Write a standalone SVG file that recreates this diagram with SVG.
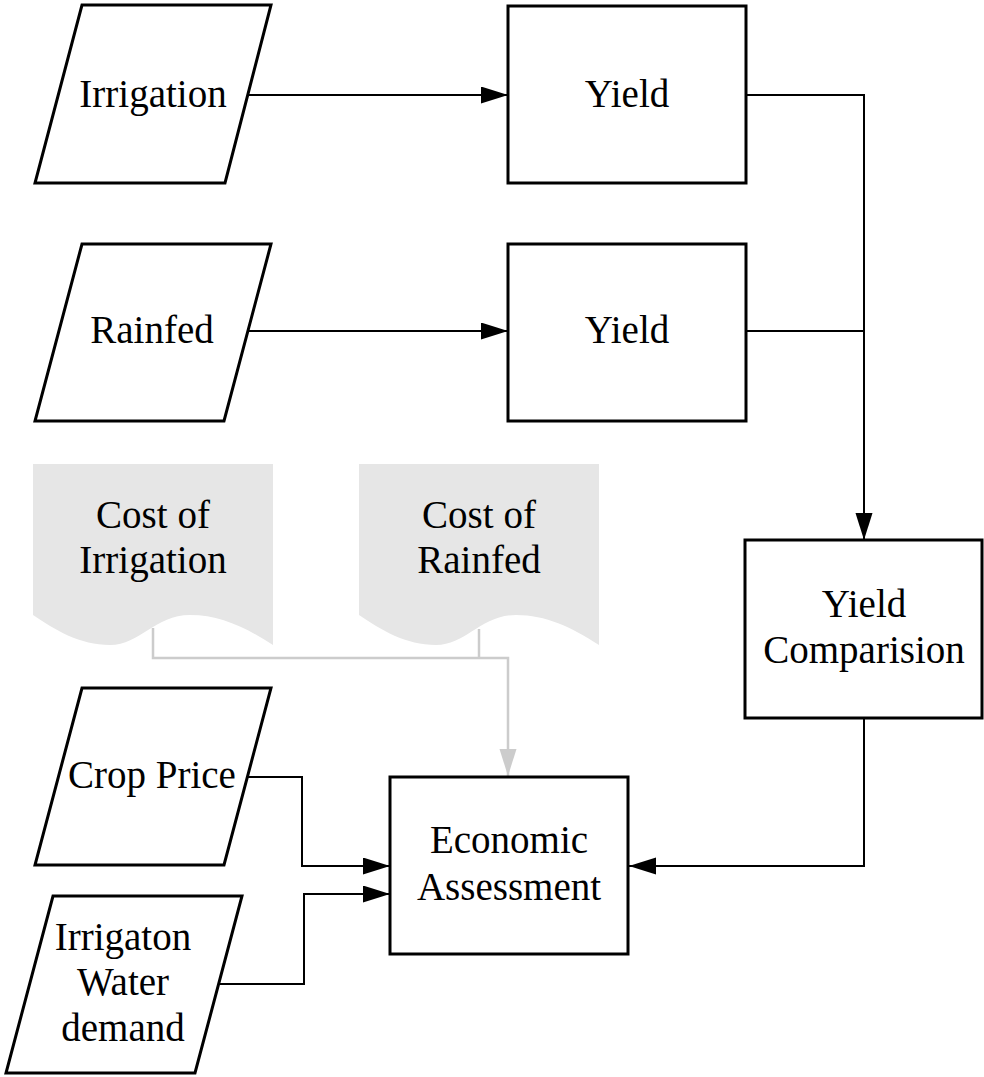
<svg xmlns="http://www.w3.org/2000/svg" width="984" height="1077" viewBox="0 0 984 1077">
<style>
.n{fill:#fff;stroke:#000;stroke-width:3;stroke-linejoin:miter}
.doc{fill:#e6e6e6;stroke:none}
.t{font-family:"Liberation Serif","Times New Roman",serif;font-size:39px;fill:#000;text-anchor:middle}
.c{fill:none;stroke:#000;stroke-width:2}
.g{fill:none;stroke:#cccccc;stroke-width:2.5}
</style>
<defs>
<marker id="ab" markerUnits="userSpaceOnUse" markerWidth="28" markerHeight="18" refX="27" refY="8.5" orient="auto"><path d="M0,0 L27,8.5 L0,17 Z" fill="#000"/></marker>
<marker id="ag" markerUnits="userSpaceOnUse" markerWidth="28" markerHeight="18" refX="27" refY="8.5" orient="auto"><path d="M0,0 L27,8.5 L0,17 Z" fill="#cccccc"/></marker>
</defs>
<g id="connectors">
<path class="c" d="M248,95 H508" marker-end="url(#ab)"/>
<path class="c" d="M247,331 H508" marker-end="url(#ab)"/>
<path class="c" d="M746,95 H864 V540" marker-end="url(#ab)"/>
<path class="c" d="M746,331 H864"/>
<path class="c" d="M864,718 V866 H629" marker-end="url(#ab)"/>
<path class="c" d="M248,777 H302 V866 H390" marker-end="url(#ab)"/>
<path class="c" d="M218,984 H304 V894 H390" marker-end="url(#ab)"/>
<path class="g" d="M153,628 V658 H508 V776" marker-end="url(#ag)"/>
<path class="g" d="M479,629 V658"/>
</g>
<g id="irrigation">
<polygon class="n" points="82,5 271,5 225,183 35,183"/>
<text class="t" x="153" y="107">Irrigation</text>
</g>
<g id="yield1">
<rect class="n" x="508" y="6" width="238" height="177"/>
<text class="t" x="627" y="107">Yield</text>
</g>
<g id="rainfed">
<polygon class="n" points="82,244 271,244 224,421 35,421"/>
<text class="t" x="152" y="343">Rainfed</text>
</g>
<g id="yield2">
<rect class="n" x="508" y="244" width="238" height="177"/>
<text class="t" x="627" y="343">Yield</text>
</g>
<g id="cost-irrigation">
<path class="doc" d="M33,464 H273 V645 C245,627 220,615 190,615 C155,615 140,645 110,645 C80,645 55,630 33,615 Z"/>
<text class="t" x="153" y="528">Cost of</text>
<text class="t" x="153" y="573">Irrigation</text>
</g>
<g id="cost-rainfed">
<path class="doc" d="M359,464 H599 V645 C571,627 546,615 516,615 C481,615 466,645 436,645 C406,645 381,630 359,615 Z"/>
<text class="t" x="479" y="528">Cost of</text>
<text class="t" x="479" y="573">Rainfed</text>
</g>
<g id="yield-comparision">
<rect class="n" x="745" y="540" width="237" height="178"/>
<text class="t" x="864" y="617">Yield</text>
<text class="t" x="864" y="663">Comparision</text>
</g>
<g id="crop-price">
<polygon class="n" points="82,688 271,688 224,865 35,865"/>
<text class="t" x="152" y="788">Crop Price</text>
</g>
<g id="water-demand">
<polygon class="n" points="53,896 242,896 195,1073 6,1073"/>
<text class="t" x="123" y="950">Irrigaton</text>
<text class="t" x="123" y="995">Water</text>
<text class="t" x="123" y="1041">demand</text>
</g>
<g id="economic-assessment">
<rect class="n" x="390" y="777" width="238" height="177"/>
<text class="t" x="509" y="853">Economic</text>
<text class="t" x="509" y="900">Assessment</text>
</g>
</svg>
